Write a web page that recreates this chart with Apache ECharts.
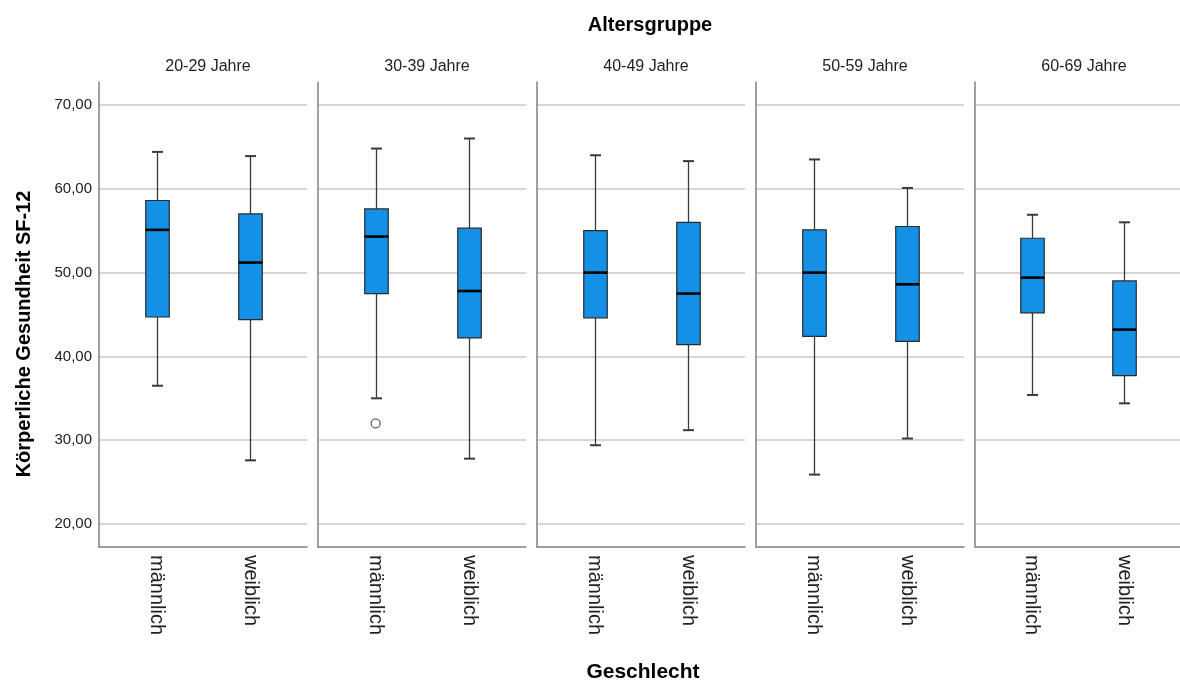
<!DOCTYPE html>
<html>
<head>
<meta charset="utf-8">
<script src="https://cdn.jsdelivr.net/npm/echarts@6/dist/echarts.min.js"></script>
<style>
  html, body { margin: 0; padding: 0; background: #fff; }
  #chart { width: 1180px; height: 684px; }
</style>
</head>
<body>
<div id="chart"></div>
<script>
// data
const ageGroups = ['20-29 Jahre', '30-39 Jahre', '40-49 Jahre', '50-59 Jahre', '60-69 Jahre']
const sexes = ['männlich', 'weiblich']
// [lower whisker, Q1, median, Q3, upper whisker] per age group
const maleStats = [
  [36.5, 44.7, 55.1, 58.6, 64.4],
  [35.0, 47.5, 54.3, 57.6, 64.8],
  [29.4, 44.6, 50.0, 55.0, 64.0],
  [25.9, 42.4, 50.0, 55.1, 63.5],
  [35.4, 45.2, 49.4, 54.1, 56.9]
]
const femaleStats = [
  [27.6, 44.4, 51.2, 57.0, 63.9],
  [27.8, 42.2, 47.8, 55.3, 66.0],
  [31.2, 41.4, 47.5, 56.0, 63.3],
  [30.2, 41.8, 48.6, 55.5, 60.1],
  [34.4, 37.7, 43.2, 49.0, 56.0]
]
// [age group index, sex index, value]
const outliers = [
  [1, 0, 32.0]
]
const yTicks = [20, 30, 40, 50, 60, 70]

const chart = echarts.init(document.getElementById('chart'), null, { renderer: 'canvas' })

const FONT = 'Arial, "Liberation Sans", sans-serif'
const PANEL_LEFT = 99
const PANEL_STEP = 219
const PANEL_W = 208
const BOX_W = 23.5
const CAP_W = 11

function renderBox(params, api) {
  const x = api.value(0)
  const lo = api.coord([x, api.value(1)])
  const q1 = api.coord([x, api.value(2)])
  const md = api.coord([x, api.value(3)])
  const q3 = api.coord([x, api.value(4)])
  const hi = api.coord([x, api.value(5)])
  const cx = Math.round(lo[0]) + 0.5
  const wStyle = { stroke: '#3a3a3a', lineWidth: 1.3 }
  return {
    type: 'group',
    children: [
      { type: 'line', shape: { x1: cx, y1: lo[1], x2: cx, y2: q1[1] }, style: wStyle },
      { type: 'line', shape: { x1: cx, y1: q3[1], x2: cx, y2: hi[1] }, style: wStyle },
      { type: 'line', shape: { x1: cx - CAP_W / 2, y1: lo[1], x2: cx + CAP_W / 2, y2: lo[1] }, style: { stroke: '#3a3a3a', lineWidth: 2 } },
      { type: 'line', shape: { x1: cx - CAP_W / 2, y1: hi[1], x2: cx + CAP_W / 2, y2: hi[1] }, style: { stroke: '#3a3a3a', lineWidth: 2 } },
      {
        type: 'rect',
        shape: { x: cx - BOX_W / 2, y: q3[1], width: BOX_W, height: q1[1] - q3[1] },
        style: { fill: '#1490e6', stroke: '#2a2a2a', lineWidth: 1.2 }
      },
      { type: 'line', shape: { x1: cx - BOX_W / 2, y1: md[1], x2: cx + BOX_W / 2, y2: md[1] }, style: { stroke: '#000', lineWidth: 2.6 } }
    ]
  }
}

const grids = []
const xAxes = []
const yAxes = []
const series = []
const titles = [{
  text: 'Altersgruppe',
  left: 645, top: 10, textAlign: 'center',
  textStyle: { fontFamily: FONT, fontSize: 20, fontWeight: 'bold', color: '#000' }
}]

ageGroups.forEach((g, i) => {
  const left = PANEL_LEFT + PANEL_STEP * i
  grids.push({ left: left, width: PANEL_W, top: 82, height: 465 })
  titles.push({
    text: g,
    left: left + 104, top: 54, textAlign: 'center',
    textStyle: { fontFamily: FONT, fontSize: 16, fontWeight: 'normal', color: '#222' }
  })
  xAxes.push({
    gridIndex: i,
    type: 'value',
    min: -0.616,
    max: 1.606,
    axisLine: { show: true, onZero: false, lineStyle: { color: '#808080', width: 1.5 } },
    axisTick: { show: false, customValues: [0, 1] },
    splitLine: { show: false },
    axisLabel: {
      customValues: [0, 1],
      rotate: -90,
      margin: 8,
      fontFamily: FONT,
      fontSize: 20,
      color: '#222',
      formatter: (v) => sexes[Math.round(v)]
    }
  })
  yAxes.push({
    gridIndex: i,
    type: 'value',
    min: 17.26,
    max: 72.74,
    axisLine: { show: true, onZero: false, lineStyle: { color: '#808080', width: 1.5 } },
    axisTick: { show: false, customValues: yTicks },
    splitLine: { show: true, lineStyle: { color: '#c8c8c8', width: 1.5 } },
    axisLabel: {
      show: i === 0,
      customValues: yTicks,
      margin: 7,
      fontFamily: FONT,
      fontSize: 15,
      color: '#222',
      formatter: (v) => v.toFixed(2).replace('.', ',')
    }
  })
  series.push({
    type: 'custom',
    xAxisIndex: i,
    yAxisIndex: i,
    renderItem: renderBox,
    encode: { x: 0, y: [1, 2, 3, 4, 5] },
    data: [
      [0].concat(maleStats[i]),
      [1].concat(femaleStats[i])
    ],
    silent: true,
    z: 5
  })
  const pts = outliers.filter(o => o[0] === i).map(o => [o[1], o[2]])
  if (pts.length) {
    series.push({
      type: 'scatter',
      xAxisIndex: i,
      yAxisIndex: i,
      symbol: 'circle',
      symbolSize: 9,
      itemStyle: { color: '#fff', borderColor: '#3a3a3a', borderWidth: 1.3 },
      data: pts,
      silent: true,
      z: 6
    })
  }
})

chart.setOption({
  animation: false,
  backgroundColor: '#fff',
  title: titles,
  grid: grids,
  xAxis: xAxes,
  yAxis: yAxes,
  series: series,
  graphic: [
    {
      type: 'text',
      x: 24, y: 334,
      rotation: Math.PI / 2,
      style: {
        text: 'Körperliche Gesundheit SF-12',
        fontFamily: FONT, fontSize: 20, fontWeight: 'bold', fill: '#000',
        align: 'center', verticalAlign: 'middle'
      }
    },
    {
      type: 'text',
      x: 643, y: 672,
      style: {
        text: 'Geschlecht',
        fontFamily: FONT, fontSize: 21, fontWeight: 'bold', fill: '#000',
        align: 'center', verticalAlign: 'middle'
      }
    }
  ]
})
</script>
</body>
</html>
